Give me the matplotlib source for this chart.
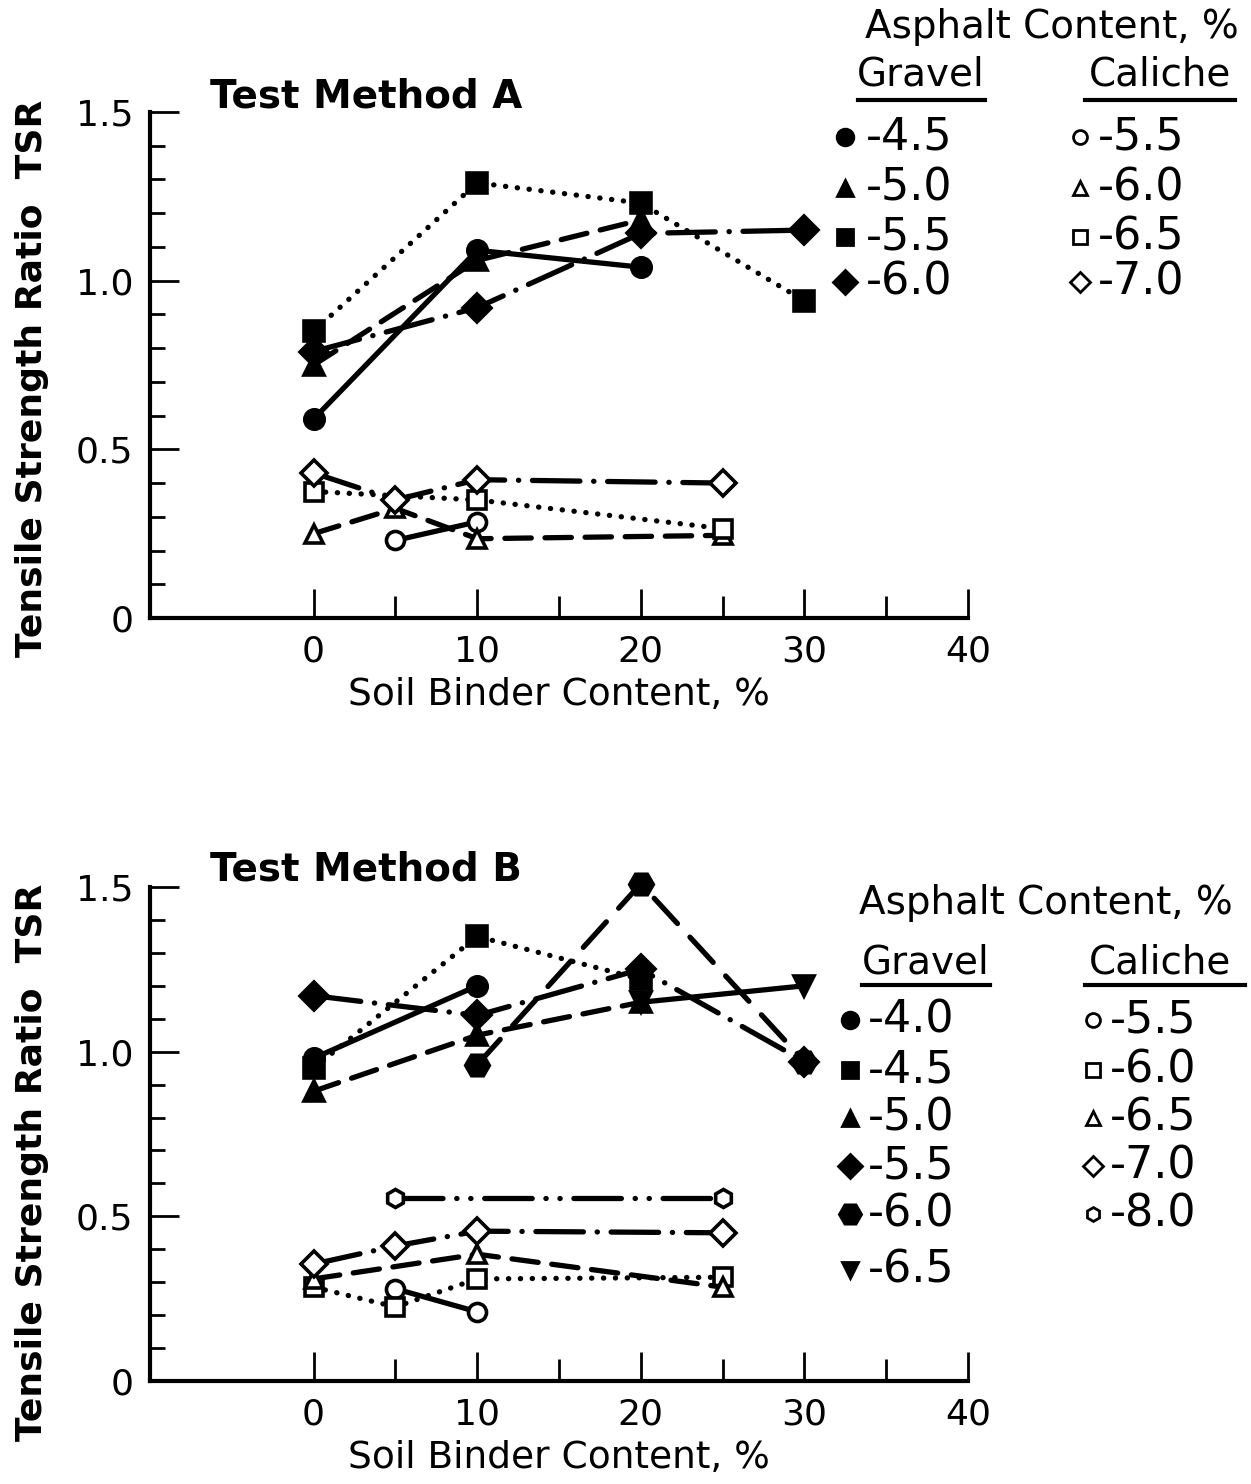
import matplotlib
matplotlib.use("Agg")
import matplotlib.pyplot as plt
from matplotlib.lines import Line2D
from matplotlib.ticker import FixedLocator, MultipleLocator

# ---- data ----
# Test Method A
a_gravel_labels = ["-4.5", "-5.0", "-5.5", "-6.0"]
a_gravel_x = [[0, 10, 20], [0, 10, 20], [0, 10, 20, 30], [0, 10, 20, 30]]
a_gravel_y = [[0.59, 1.09, 1.04], [0.75, 1.06, 1.18],
              [0.85, 1.29, 1.23, 0.94], [0.79, 0.92, 1.14, 1.15]]
a_caliche_labels = ["-5.5", "-6.0", "-6.5", "-7.0"]
a_caliche_x = [[5, 10], [0, 5, 10, 25], [0, 10, 25], [0, 5, 10, 25]]
a_caliche_y = [[0.23, 0.285], [0.25, 0.325, 0.235, 0.245],
               [0.375, 0.35, 0.265], [0.43, 0.35, 0.41, 0.40]]

# Test Method B
b_gravel_labels = ["-4.0", "-4.5", "-5.0", "-5.5", "-6.0", "-6.5"]
b_gravel_x = [[0, 10], [0, 10, 20], [0, 10, 20], [0, 10, 20, 30], [10, 20, 30], [20, 30]]
b_gravel_y = [[0.98, 1.20], [0.95, 1.35, 1.22], [0.88, 1.05, 1.15],
              [1.17, 1.11, 1.25, 0.97], [0.96, 1.51, 0.97], [1.15, 1.20]]
b_caliche_labels = ["-5.5", "-6.0", "-6.5", "-7.0", "-8.0"]
b_caliche_x = [[5, 10], [0, 5, 10, 25], [0, 10, 25], [0, 5, 10, 25], [5, 25]]
b_caliche_y = [[0.28, 0.21], [0.285, 0.225, 0.31, 0.315], [0.31, 0.385, 0.285],
               [0.355, 0.41, 0.455, 0.45], [0.555, 0.555]]

x_ticks = [0, 10, 20, 30, 40]
y_ticks = [0, 0.5, 1.0, 1.5]
y_ticklabels = ["0", "0.5", "1.0", "1.5"]

# line styles
SOLID = "-"
DASHED = (0, (5, 2.6))
DOTTED = (0, (0.05, 2.2))
DASHDOT = (0, (9, 2.6, 0.05, 2.6))
LONGDASH = (0, (6.5, 3.5))
DASHDOTDOT = (0, (9, 2.6, 0.05, 2.6, 0.05, 2.6))

a_gravel_style = [("o", SOLID), ("^", DASHED), ("s", DOTTED), ("D", DASHDOT)]
a_caliche_style = [("o", SOLID), ("^", DASHED), ("s", DOTTED), ("D", DASHDOT)]
b_gravel_style = [("o", SOLID), ("s", DOTTED), ("^", DASHED), ("D", DASHDOT),
                  ("H", LONGDASH), ("v", SOLID)]
b_caliche_style = [("o", SOLID), ("s", DOTTED), ("^", DASHED), ("D", DASHDOT),
                   ("h", DASHDOTDOT)]

W, H = 1251, 1484
LW = 3.8


def fx(px):
    return px / W


def fy(py):
    return 1 - py / H


def setup_axes(ax):
    ax.set_xlim(-10, 40)
    ax.set_ylim(0, 1.5)
    ax.patch.set_visible(False)
    for s in ["top", "right"]:
        ax.spines[s].set_visible(False)
    for s in ["left", "bottom"]:
        ax.spines[s].set_linewidth(3)
    ax.xaxis.set_major_locator(FixedLocator(x_ticks))
    ax.xaxis.set_minor_locator(FixedLocator([5, 15, 25, 35]))
    ax.yaxis.set_major_locator(FixedLocator(y_ticks))
    ax.yaxis.set_minor_locator(MultipleLocator(0.1))
    ax.set_yticklabels(y_ticklabels)
    ax.tick_params(which="both", direction="in", width=2, labelsize=26)
    ax.tick_params(axis="x", which="major", length=21, pad=12)
    ax.tick_params(axis="x", which="minor", length=16)
    ax.tick_params(axis="y", which="major", length=21, pad=12)
    ax.tick_params(axis="y", which="minor", length=11)
    ax.set_xlabel("Soil Binder Content, %", fontsize=27, labelpad=6)


def marker_size(m, filled):
    if m == "H":
        return 17
    return 14 if filled else 13


def draw_series(ax, xs, ys, styles, filled):
    for x, y, (m, ls) in zip(xs, ys, styles):
        ax.plot(x, y, color="black", lw=LW, ls=ls, dash_capstyle="round",
                marker=m, ms=marker_size(m, filled),
                mfc="black" if filled else "white", mec="black", mew=2.6,
                zorder=3 if filled else 4, clip_on=False)


def draw_legend(fig, title_xy, heads, rows_y, gravel, caliche):
    (tx, ty) = title_xy
    fig.text(fx(tx), fy(ty), "Asphalt Content, %", fontsize=28, ha="center", va="center")
    for (name, cx, hy, ux0, ux1, uy) in heads:
        fig.text(fx(cx), fy(hy), name, fontsize=28, ha="center", va="center")
        fig.add_artist(Line2D([fx(ux0), fx(ux1)], [fy(uy), fy(uy)], color="black",
                              lw=3, transform=fig.transFigure))
    for (mx, txx, labels, styles, filled) in (gravel, caliche):
        for py, lab, (m, _) in zip(rows_y, labels, styles):
            ms = 12 if filled else 10
            if m == "H":
                ms = 16
            fig.add_artist(Line2D([fx(mx)], [fy(py)], marker=m, ls="none",
                                  ms=ms, mec="black", mew=2,
                                  mfc="black" if filled else "white",
                                  transform=fig.transFigure))
            fig.text(fx(txx), fy(py), lab, fontsize=32, ha="left", va="center")


fig = plt.figure(figsize=(W / 100, H / 100), dpi=100)

# top panel
ax1 = fig.add_axes([fx(150), fy(618), fx(968) - fx(150), fy(112) - fy(618)])
setup_axes(ax1)
draw_series(ax1, a_caliche_x, a_caliche_y, a_caliche_style, False)
draw_series(ax1, a_gravel_x, a_gravel_y, a_gravel_style, True)
fig.text(fx(210), fy(97), "Test Method A", fontsize=28, fontweight="bold",
         ha="left", va="center")
fig.text(fx(32), fy(378), "Tensile Strength Ratio  TSR", fontsize=26,
         fontweight="bold", rotation=90, ha="center", va="center")
draw_legend(fig, (1052, 27),
            [("Gravel", 921, 75, 858, 985, 100), ("Caliche", 1160, 75, 1085, 1235, 100)],
            [137, 188, 237, 282],
            (845, 866, a_gravel_labels, a_gravel_style, True),
            (1080, 1098, a_caliche_labels, a_caliche_style, False))

# bottom panel
ax2 = fig.add_axes([fx(150), fy(1381), fx(968) - fx(150), fy(887) - fy(1381)])
setup_axes(ax2)
draw_series(ax2, b_caliche_x, b_caliche_y, b_caliche_style, False)
draw_series(ax2, b_gravel_x, b_gravel_y, b_gravel_style, True)
fig.text(fx(210), fy(870), "Test Method B", fontsize=28, fontweight="bold",
         ha="left", va="center")
fig.text(fx(32), fy(1162), "Tensile Strength Ratio  TSR", fontsize=26,
         fontweight="bold", rotation=90, ha="center", va="center")
draw_legend(fig, (1046, 903),
            [("Gravel", 926, 962, 862, 990, 985), ("Caliche", 1160, 962, 1085, 1245, 985)],
            [1020, 1070, 1118, 1166, 1214, 1270],
            (850, 868, b_gravel_labels, b_gravel_style, True),
            (1093, 1110, b_caliche_labels, b_caliche_style, False))

fig.savefig("out.png", dpi=100)
